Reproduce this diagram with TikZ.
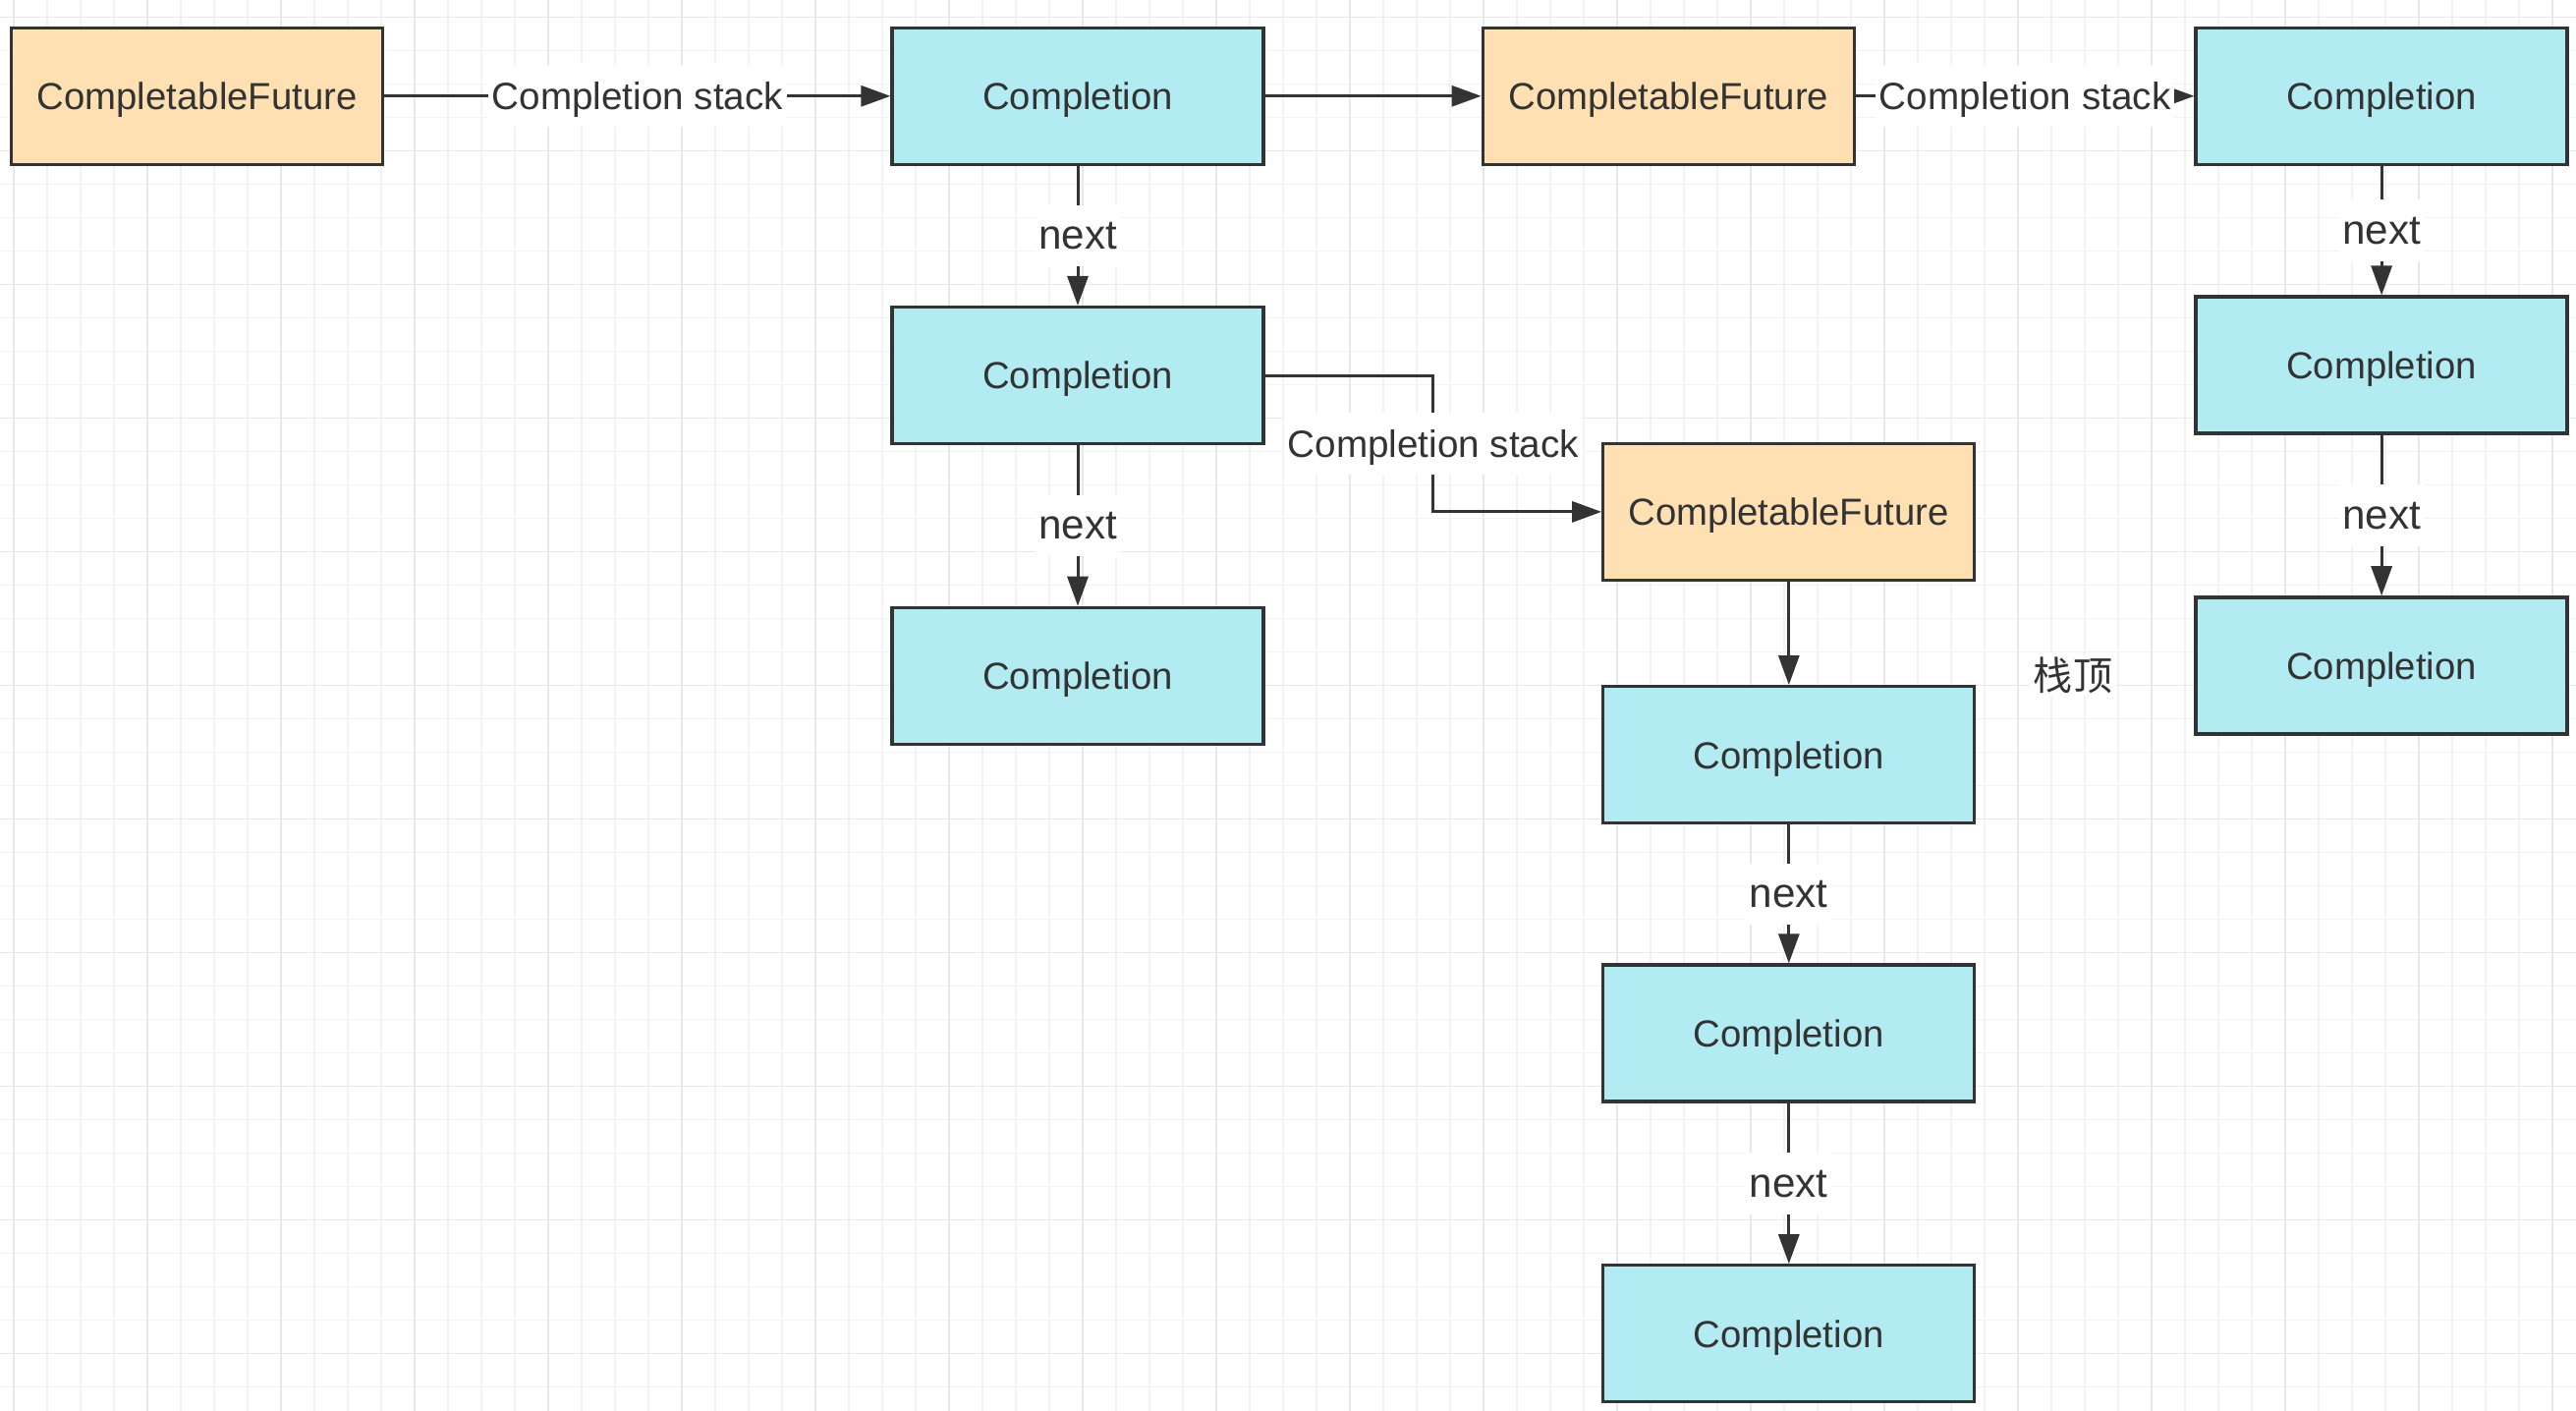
\documentclass[tikz,border=0pt]{standalone}
\usepackage{fontspec}
\setmainfont{Liberation Sans}
\newfontfamily\cjkfont{Noto Sans CJK SC}
\usetikzlibrary{positioning,arrows.meta,calc}
\definecolor{futurefill}{HTML}{FFE0B2}
\definecolor{complfill}{HTML}{B2EBF2}
\definecolor{inkgray}{HTML}{333333}
\definecolor{gridminor}{HTML}{F3F3F3}
\definecolor{gridmajor}{HTML}{E8E8E8}

\begin{document}
\begin{tikzpicture}[
    node distance=1.5cm,
    box/.style={rectangle, draw=inkgray, line width=0.033cm, minimum width=3.78cm, minimum height=1.39cm, inner sep=0pt, text depth=0pt, text=inkgray, font=\fontsize{10.9}{13}\selectfont},
    future_node/.style={box, fill=futurefill},
    compl_node/.style={box, fill=complfill},
    link/.style={-{Triangle[length=0.30cm, width=0.21cm]}, draw=inkgray, line width=0.03cm},
    stack_label/.style={fill=white, text=inkgray, text depth=0pt, inner xsep=1pt, inner ysep=5pt, font=\fontsize{11}{13}\selectfont},
    next_label/.style={fill=white, text=inkgray, text depth=0pt, inner xsep=1pt, inner ysep=5pt, font=\fontsize{12}{14}\selectfont},
    note_label/.style={fill=white, text=inkgray, inner sep=1pt, font=\cjkfont\fontsize{11.4}{14}\selectfont}
]

% Grid paper
\useasboundingbox (0,0) rectangle (26.22,-14.36);
\fill[white] (0,0) rectangle (26.22,-14.36);
\foreach \i in {0,...,76} \draw[gridminor, line width=0.015cm] ({0.14+0.34*\i},0) -- ++(0,-14.36);
\foreach \j in {0,...,41} \draw[gridminor, line width=0.015cm] (0,{-0.173-0.34*\j}) -- ++(26.22,0);
\foreach \i in {0,...,19} \draw[gridmajor, line width=0.015cm] ({0.14+1.36*\i},0) -- ++(0,-14.36);
\foreach \j in {0,...,10} \draw[gridmajor, line width=0.015cm] (0,{-0.173-1.36*\j}) -- ++(26.22,0);

% Top row
\node[future_node] (cf1) at (2.007,-0.978) {CompletableFuture};
\node[compl_node, right=5.15cm of cf1] (c1) {Completion};
\node[future_node, right=2.20cm of c1] (cf2) {CompletableFuture};
\node[compl_node, right=3.445cm of cf2] (cr1) {Completion};

% Left stack
\node[compl_node, below=1.42cm of c1] (c2) {Completion};
\node[compl_node, below=1.635cm of c2] (c3) {Completion};

% Middle stack
\node[future_node, below right=-0.035cm and 3.425cm of c2] (cf3) {CompletableFuture};
\node[compl_node, below=1.05cm of cf3] (cm1) {Completion};
\node[compl_node, below=1.41cm of cm1] (cm2) {Completion};
\node[compl_node, below=1.635cm of cm2] (cm3) {Completion};

% Right stack
\node[compl_node, below=1.315cm of cr1] (cr2) {Completion};
\node[compl_node, below=1.635cm of cr2] (cr3) {Completion};

\node[note_label] (stack_top) at (21.10,-6.87) {栈顶};

% Connections
\draw[link] (cf1) -- node[stack_label] {Completion stack} (c1);
\draw[link] (c1) -- (cf2);
\draw[link] (cf2) -- node[stack_label] {Completion stack} (cr1);

\draw[link] (c1) -- node[next_label] {next} (c2);
\draw[link] (c2) -- node[next_label] {next} (c3);

\coordinate (bend) at ($(c2.east)!0.5!(cf3.west)$);
\draw[link] (c2.east) -| (bend) node[stack_label] {Completion stack} |- (cf3.west);

\draw[link] (cf3) -- (cm1);
\draw[link] (cm1) -- node[next_label] {next} (cm2);
\draw[link] (cm2) -- node[next_label] {next} (cm3);

\draw[link] (cr1) -- node[next_label] {next} (cr2);
\draw[link] (cr2) -- node[next_label] {next} (cr3);

\end{tikzpicture}
\end{document}
